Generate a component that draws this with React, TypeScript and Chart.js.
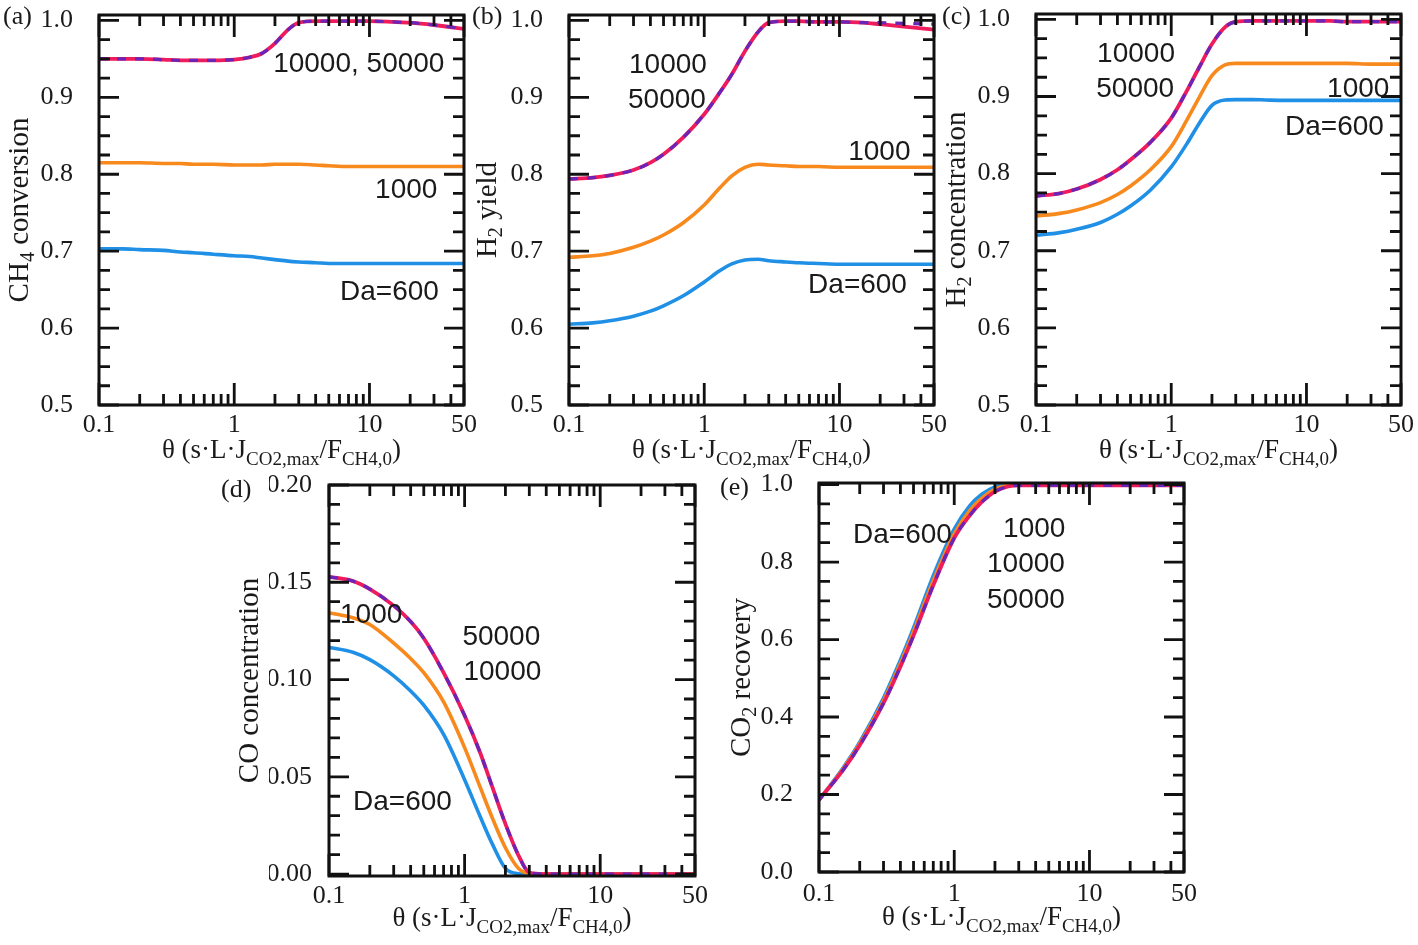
import React, { useEffect, useRef } from 'react';
import { Chart, registerables } from 'chart.js';

Chart.register(...registerables);

// ---------------- data ----------------
const theta = [0.1, 0.15, 0.2, 0.3, 0.4, 0.5, 0.7, 1, 1.3, 1.6, 2, 2.5, 3, 4, 5, 7, 10, 15, 20, 30, 50];

const xTickValues = [0.1, 0.2, 0.3, 0.4, 0.5, 0.6, 0.7, 0.8, 0.9, 1, 2, 3, 4, 5, 6, 7, 8, 9, 10, 20, 30, 40, 50];
const xLabelValues = [0.1, 1, 10, 50];
const xTickLabels = ['0.1', '1', '10', '50'];

// (a) CH4 conversion
const aDa600 = [0.703, 0.703, 0.702, 0.701, 0.699, 0.698, 0.696, 0.694, 0.693, 0.691, 0.689, 0.687, 0.686, 0.685, 0.684, 0.684, 0.684, 0.684, 0.684, 0.684, 0.684];
const aDa1000 = [0.815, 0.815, 0.815, 0.814, 0.814, 0.813, 0.813, 0.812, 0.812, 0.812, 0.813, 0.813, 0.813, 0.812, 0.811, 0.81, 0.81, 0.81, 0.81, 0.81, 0.81];
const aDa10000 = [0.95, 0.95, 0.95, 0.949, 0.948, 0.948, 0.948, 0.949, 0.952, 0.957, 0.97, 0.988, 0.997, 0.999, 0.999, 0.999, 0.999, 0.998, 0.997, 0.994, 0.989];
const aDa50000 = [0.95, 0.95, 0.95, 0.949, 0.948, 0.948, 0.948, 0.949, 0.952, 0.957, 0.97, 0.988, 0.997, 0.999, 0.999, 0.999, 0.999, 0.998, 0.997, 0.994, 0.989];

// (b) H2 yield
const bDa600 = [0.605, 0.6068, 0.6095, 0.6155, 0.622, 0.629, 0.642, 0.66, 0.6745, 0.6835, 0.6885, 0.6895, 0.6875, 0.686, 0.685, 0.684, 0.683, 0.683, 0.683, 0.683, 0.683];
const bDa1000 = [0.692, 0.694, 0.697, 0.705, 0.713, 0.721, 0.737, 0.76, 0.782, 0.798, 0.809, 0.813, 0.812, 0.811, 0.81, 0.81, 0.809, 0.809, 0.809, 0.809, 0.809];
const bDa10000 = [0.794, 0.7955, 0.7985, 0.8055, 0.815, 0.826, 0.848, 0.878, 0.906, 0.93, 0.96, 0.985, 0.997, 0.999, 0.999, 0.998, 0.998, 0.997, 0.997, 0.996, 0.995];
const bDa50000 = [0.794, 0.7955, 0.7985, 0.8055, 0.815, 0.826, 0.848, 0.878, 0.906, 0.93, 0.96, 0.985, 0.997, 0.999, 0.999, 0.998, 0.998, 0.997, 0.995, 0.992, 0.988];

// (c) H2 concentration
const cDa600 = [0.72, 0.7235, 0.7279, 0.7367, 0.7473, 0.758, 0.7785, 0.8087, 0.8383, 0.8644, 0.8886, 0.8955, 0.896, 0.896, 0.8955, 0.895, 0.895, 0.895, 0.895, 0.895, 0.895];
const cDa1000 = [0.745, 0.7485, 0.753, 0.7625, 0.773, 0.784, 0.805, 0.835, 0.869, 0.898, 0.927, 0.941, 0.943, 0.943, 0.943, 0.943, 0.943, 0.943, 0.943, 0.942, 0.942];
const cDa10000 = [0.771, 0.7745, 0.78, 0.7925, 0.805, 0.818, 0.8405, 0.872, 0.907, 0.937, 0.968, 0.99, 0.997, 0.998, 0.998, 0.998, 0.998, 0.998, 0.997, 0.997, 0.997];
const cDa50000 = [0.771, 0.7745, 0.78, 0.7925, 0.805, 0.818, 0.8405, 0.872, 0.907, 0.937, 0.968, 0.99, 0.997, 0.998, 0.998, 0.998, 0.998, 0.998, 0.997, 0.997, 0.997];

// (d) CO concentration
const dDa600 = [0.1165, 0.114, 0.1102, 0.1019, 0.0941, 0.0868, 0.0718, 0.0485, 0.0297, 0.0155, 0.0029, 0.0002, 0, 0, 0, 0, 0, 0, 0, 0, 0];
const dDa1000 = [0.1343, 0.1318, 0.1283, 0.1187, 0.1108, 0.1035, 0.0885, 0.065, 0.0448, 0.0289, 0.0135, 0.0028, 0.0003, 0, 0, 0, 0, 0, 0, 0, 0];
const dDa10000 = [0.1528, 0.1506, 0.1465, 0.138, 0.1298, 0.1212, 0.1035, 0.0815, 0.0625, 0.0448, 0.0258, 0.0095, 0.0008, 0, 0, 0, 0, 0, 0, 0, 0];
const dDa50000 = [0.1528, 0.1506, 0.1465, 0.138, 0.1298, 0.1212, 0.1035, 0.0815, 0.0625, 0.0448, 0.0258, 0.0095, 0.0008, 0, 0, 0, 0, 0, 0, 0, 0];

// (e) CO2 recovery
const eDa600 = [0.186, 0.268, 0.335, 0.449, 0.547, 0.63, 0.765, 0.885, 0.945, 0.975, 0.994, 1.0, 1.0, 1.0, 1.0, 1.0, 1.0, 1.0, 1.0, 1.0, 1.0];
const eDa1000 = [0.186, 0.265, 0.331, 0.442, 0.538, 0.62, 0.752, 0.873, 0.933, 0.965, 0.988, 0.998, 0.999, 0.999, 0.999, 0.999, 0.999, 0.999, 0.999, 0.999, 0.999];
const eDa10000 = [0.186, 0.262, 0.327, 0.436, 0.53, 0.61, 0.74, 0.862, 0.92, 0.955, 0.982, 0.995, 0.998, 0.998, 0.998, 0.998, 0.998, 0.998, 0.998, 0.998, 0.998];
const eDa50000 = [0.186, 0.262, 0.327, 0.436, 0.53, 0.61, 0.74, 0.862, 0.92, 0.955, 0.982, 0.995, 0.998, 0.998, 0.998, 0.998, 0.998, 0.998, 0.998, 0.998, 0.998];

// y tick labels
const yMajorsH = [0.5, 0.6, 0.7, 0.8, 0.9, 1.0];
const yLabelsH = ['0.5', '0.6', '0.7', '0.8', '0.9', '1.0'];
const yMajorsCO = [0, 0.05, 0.1, 0.15, 0.2];
const yLabelsCO = ['0.00', '0.05', '0.10', '0.15', '0.20'];
const yMajorsRec = [0, 0.2, 0.4, 0.6, 0.8, 1.0];
const yLabelsRec = ['0.0', '0.2', '0.4', '0.6', '0.8', '1.0'];

// ---------------- styles ----------------
const SERIF = '"Liberation Serif", "Times New Roman", serif';
const SANS = '"Liberation Sans", Arial, sans-serif';
const INK = '#1a1a1a';
const COL600 = '#1f90e6';
const COL1000 = '#f7891d';
const COL10000 = '#6a25b8';
const COL50000 = '#ee1b5d';

type Part = [string, boolean];
type Note = { text: string; x: number; y: number };
type PanelCfg = {
  id: string;
  letter: string; letterX: number; letterY: number;
  left: number; top: number; right: number; bottom: number;
  yMin: number; yMax: number; yMajors: number[]; yLabels: string[]; yMinorStep: number;
  yLabelPad: number; xLabelPad: number;
  yTitle: Part[]; yTitleX: number; xTitleY: number;
  s600: number[]; s1000: number[]; s10000: number[]; s50000: number[];
  notes: Note[];
};

const xTitle: Part[] = [['θ (s·L·J', false], ['CO2,max', true], ['/F', false], ['CH4,0', true], [')', false]];

const panels: PanelCfg[] = [
  {
    id: 'a', letter: '(a)', letterX: 3, letterY: 24,
    left: 99, top: 15, right: 464, bottom: 405,
    yMin: 0.5, yMax: 1.007, yMajors: yMajorsH, yLabels: yLabelsH, yMinorStep: 0.025,
    yLabelPad: 26, xLabelPad: 5,
    yTitle: [['CH', false], ['4', true], [' conversion', false]], yTitleX: 28, xTitleY: 458,
    s600: aDa600, s1000: aDa1000, s10000: aDa10000, s50000: aDa50000,
    notes: [
      { text: '10000, 50000', x: 1.94, y: 0.933 },
      { text: '1000', x: 11.0, y: 0.769 },
      { text: 'Da=600', x: 6.06, y: 0.6365 },
    ],
  },
  {
    id: 'b', letter: '(b)', letterX: 472, letterY: 24,
    left: 569, top: 15, right: 934, bottom: 405,
    yMin: 0.5, yMax: 1.007, yMajors: yMajorsH, yLabels: yLabelsH, yMinorStep: 0.025,
    yLabelPad: 26, xLabelPad: 5,
    yTitle: [['H', false], ['2', true], [' yield', false]], yTitleX: 496, xTitleY: 458,
    s600: bDa600, s1000: bDa1000, s10000: bDa10000, s50000: bDa50000,
    notes: [
      { text: '10000', x: 0.278, y: 0.9316 },
      { text: '50000', x: 0.273, y: 0.886 },
      { text: '1000', x: 11.6, y: 0.8185 },
      { text: 'Da=600', x: 5.86, y: 0.6456 },
    ],
  },
  {
    id: 'c', letter: '(c)', letterX: 942, letterY: 24,
    left: 1036, top: 14, right: 1401, bottom: 405,
    yMin: 0.5, yMax: 1.007, yMajors: yMajorsH, yLabels: yLabelsH, yMinorStep: 0.025,
    yLabelPad: 26, xLabelPad: 5,
    yTitle: [['H', false], ['2', true], [' concentration', false]], yTitleX: 965, xTitleY: 458,
    s600: cDa600, s1000: cDa1000, s10000: cDa10000, s50000: cDa50000,
    notes: [
      { text: '10000', x: 0.283, y: 0.9448 },
      { text: '50000', x: 0.279, y: 0.8994 },
      { text: '1000', x: 14.2, y: 0.8994 },
      { text: 'Da=600', x: 6.94, y: 0.8501 },
    ],
  },
  {
    id: 'd', letter: '(d)', letterX: 221, letterY: 497,
    left: 329, top: 485, right: 695, bottom: 876,
    yMin: -0.001, yMax: 0.2, yMajors: yMajorsCO, yLabels: yLabelsCO, yMinorStep: 0.01,
    yLabelPad: 17, xLabelPad: 5,
    yTitle: [['CO concentration', false]], yTitleX: 258, xTitleY: 926,
    s600: dDa600, s1000: dDa1000, s10000: dDa10000, s50000: dDa50000,
    notes: [
      { text: '1000', x: 0.1206, y: 0.1291 },
      { text: '50000', x: 0.963, y: 0.1178 },
      { text: '10000', x: 0.98, y: 0.0998 },
      { text: 'Da=600', x: 0.1505, y: 0.0329 },
    ],
  },
  {
    id: 'e', letter: '(e)', letterX: 720, letterY: 495,
    left: 819, top: 483, right: 1184, bottom: 872,
    yMin: 0, yMax: 1.004, yMajors: yMajorsRec, yLabels: yLabelsRec, yMinorStep: 0.05,
    yLabelPad: 26, xLabelPad: 7,
    yTitle: [['CO', false], ['2', true], [' recovery', false]], yTitleX: 750, xTitleY: 925,
    s600: eDa600, s1000: eDa1000, s10000: eDa10000, s50000: eDa50000,
    notes: [
      { text: 'Da=600', x: 0.1785, y: 0.849 },
      { text: '1000', x: 2.296, y: 0.8646 },
      { text: '10000', x: 1.748, y: 0.7743 },
      { text: '50000', x: 1.748, y: 0.6814 },
    ],
  },
];

// ---------------- helpers ----------------
function drawRich(ctx: CanvasRenderingContext2D, parts: Part[], cx: number, y: number, mainPx: number, subPx: number, subDy: number) {
  const mainFont = `${mainPx}px ${SERIF}`;
  const subFont = `${subPx}px ${SERIF}`;
  let total = 0;
  const widths = parts.map(([t, sub]) => {
    ctx.font = sub ? subFont : mainFont;
    const w = ctx.measureText(t).width;
    total += w;
    return w;
  });
  let x = cx - total / 2;
  ctx.textAlign = 'left';
  ctx.textBaseline = 'alphabetic';
  parts.forEach(([t, sub], i) => {
    ctx.font = sub ? subFont : mainFont;
    ctx.fillText(t, x, sub ? y + subDy : y);
    x += widths[i];
  });
}

function labelFor(v: number, majors: number[], labels: string[]) {
  for (let i = 0; i < majors.length; i++) if (Math.abs(majors[i] - v) < 1e-7) return labels[i];
  return '';
}

function buildYTicks(p: PanelCfg) {
  const out: number[] = [];
  const start = p.yMajors[0];
  const end = p.yMajors[p.yMajors.length - 1];
  const n = Math.round((end - start) / p.yMinorStep);
  for (let i = 0; i <= n; i++) out.push(+(start + i * p.yMinorStep).toFixed(6));
  return out;
}

function makeDecor(p: PanelCfg) {
  return {
    id: 'decor_' + p.id,
    afterDraw(chart: any) {
      const { ctx, chartArea: ca, scales } = chart;
      const xs = scales.x;
      const ys = scales.y;
      ctx.save();
      // ticks (inward, all four sides)
      ctx.strokeStyle = '#111';
      ctx.lineWidth = 2.8;
      ctx.lineCap = 'butt';
      ctx.beginPath();
      xs.ticks.forEach((t: any) => {
        const px = xs.getPixelForValue(t.value);
        const len = xLabelValues.indexOf(t.value) >= 0 ? 22 : 11;
        ctx.moveTo(px, ca.bottom); ctx.lineTo(px, ca.bottom - len);
        ctx.moveTo(px, ca.top); ctx.lineTo(px, ca.top + len);
      });
      ys.ticks.forEach((t: any) => {
        const py = ys.getPixelForValue(t.value);
        const len = labelFor(t.value, p.yMajors, p.yLabels) ? 20 : 11;
        ctx.moveTo(ca.left, py); ctx.lineTo(ca.left + len, py);
        ctx.moveTo(ca.right, py); ctx.lineTo(ca.right - len, py);
      });
      ctx.stroke();
      // frame
      ctx.lineWidth = 3;
      ctx.strokeRect(ca.left, ca.top, ca.right - ca.left, ca.bottom - ca.top);

      ctx.fillStyle = INK;
      // x title
      drawRich(ctx, xTitle, (ca.left + ca.right) / 2, p.xTitleY, 27, 19, 7);
      // y title
      ctx.save();
      ctx.translate(p.yTitleX, (ca.top + ca.bottom) / 2);
      ctx.rotate(-Math.PI / 2);
      drawRich(ctx, p.yTitle, 0, 0, 29, 20, 6);
      ctx.restore();
      // panel letter
      ctx.font = `26px ${SERIF}`;
      ctx.textAlign = 'left';
      ctx.textBaseline = 'alphabetic';
      ctx.fillText(p.letter, p.letterX, p.letterY);
      // curve notes
      ctx.font = `28px ${SANS}`;
      p.notes.forEach((n) => {
        ctx.fillText(n.text, xs.getPixelForValue(n.x), ys.getPixelForValue(n.y));
      });
      ctx.restore();
    },
  };
}

function series(ys: number[]) {
  return ys.map((y, i) => ({ x: theta[i], y }));
}

function makeConfig(p: PanelCfg): any {
  const yTicks = buildYTicks(p);
  const base = { pointRadius: 0, cubicInterpolationMode: 'monotone', fill: false };
  return {
    type: 'line',
    data: {
      datasets: [
        { ...base, label: '10000', data: series(p.s10000), borderColor: COL10000, borderWidth: 3.2, borderDash: [9, 9] },
        { ...base, label: '50000', data: series(p.s50000), borderColor: COL50000, borderWidth: 3.8 },
        { ...base, label: '1000', data: series(p.s1000), borderColor: COL1000, borderWidth: 3.6 },
        { ...base, label: 'Da=600', data: series(p.s600), borderColor: COL600, borderWidth: 3.6 },
      ],
    },
    options: {
      responsive: false,
      animation: false,
      devicePixelRatio: 1,
      events: [],
      layout: {
        autoPadding: false,
        padding: { left: p.left - 60, top: p.top, right: 1418 - p.right, bottom: 945 - p.bottom - 40 },
      },
      plugins: { legend: { display: false }, tooltip: { enabled: false }, title: { display: false } },
      scales: {
        x: {
          type: 'logarithmic',
          position: 'bottom',
          min: 0.1,
          max: 50,
          afterFit: (s: any) => { s.height = 40; s.paddingLeft = 0; s.paddingRight = 0; },
          afterBuildTicks: (s: any) => { s.ticks = xTickValues.map((v) => ({ value: v })); },
          grid: { display: false, drawTicks: false },
          border: { display: false },
          ticks: {
            autoSkip: false,
            maxRotation: 0,
            minRotation: 0,
            padding: p.xLabelPad,
            color: INK,
            font: { family: SERIF, size: 26 },
            callback: (v: any) => {
              const i = xLabelValues.indexOf(Number(v));
              return i >= 0 ? xTickLabels[i] : '';
            },
          },
        },
        y: {
          type: 'linear',
          min: p.yMin,
          max: p.yMax,
          afterFit: (s: any) => { s.width = 60; s.paddingTop = 0; s.paddingBottom = 0; },
          afterBuildTicks: (s: any) => { s.ticks = yTicks.map((v) => ({ value: v })); },
          grid: { display: false, drawTicks: false },
          border: { display: false },
          ticks: {
            autoSkip: false,
            padding: p.yLabelPad,
            color: INK,
            font: { family: SERIF, size: 26 },
            callback: (v: any) => labelFor(Number(v), p.yMajors, p.yLabels),
          },
        },
      },
    },
    plugins: [makeDecor(p)],
  };
}

function Panel({ p }: { p: PanelCfg }) {
  const ref = useRef<HTMLCanvasElement | null>(null);
  useEffect(() => {
    if (!ref.current) return;
    const chart = new Chart(ref.current, makeConfig(p));
    return () => chart.destroy();
  }, [p]);
  return (
    <canvas
      ref={ref}
      width={1418}
      height={945}
      style={{ position: 'absolute', left: 0, top: 0, width: 1418, height: 945 }}
    />
  );
}

export default function App() {
  return (
    <div style={{ position: 'fixed', left: 0, top: 0, width: 1418, height: 945, background: '#fff', overflow: 'hidden' }}>
      {panels.map((p) => (
        <Panel key={p.id} p={p} />
      ))}
    </div>
  );
}
